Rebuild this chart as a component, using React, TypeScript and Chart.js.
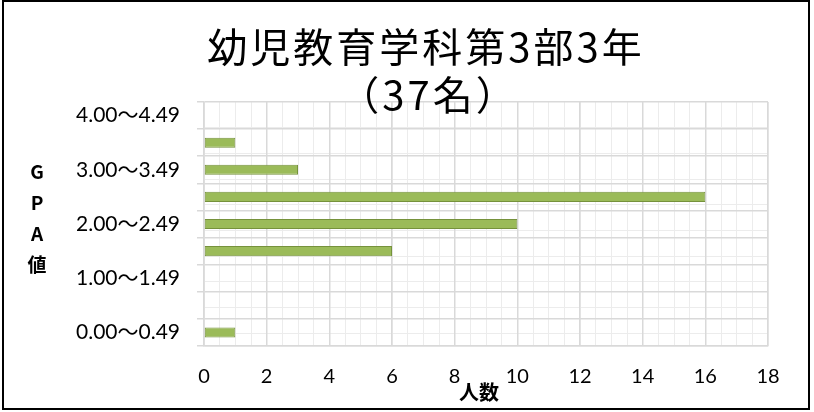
import React, { useEffect, useRef } from 'react';
import { Chart, registerables } from 'chart.js';

Chart.register(...registerables);

// ---- data ----
const categories = [
  '4.00～4.49',
  '3.50～3.99',
  '3.00～3.49',
  '2.50～2.99',
  '2.00～2.49',
  '1.50～1.99',
  '1.00～1.49',
  '0.50～0.99',
  '0.00～0.49',
];
const counts = [0, 1, 3, 16, 10, 6, 0, 0, 1];
const titleLines = ['幼児教育学科第3部3年', '（37名）'];
const yAxisTitleChars = ['G', 'P', 'A', '値'];
const xAxisTitle = '人数';
const xMin = 0;
const xMax = 18;
const xStep = 2;
const xMinorStep = 0.5;

// ---- styles ----
const MAJOR = '#d9d9d9';
const MINOR = '#ececec';
const BAR_FILL = '#9bbb59';
const BAR_BORDER = '#76923c';
const TICK_FONT = 'Lato, "Noto Sans CJK JP", sans-serif';
const CJK_FONT = '"Noto Sans CJK JP", sans-serif';

const decorPlugin = {
  id: 'decor',
  beforeDraw(chart: any) {
    const ctx = chart.ctx;
    ctx.save();
    ctx.fillStyle = '#ffffff';
    ctx.fillRect(0, 0, chart.width, chart.height);
    ctx.restore();
  },
  afterDraw(chart: any) {
    const ctx = chart.ctx;
    ctx.save();
    ctx.strokeStyle = '#000000';
    ctx.lineWidth = 2;
    ctx.strokeRect(3, 1, 806, 408);

    ctx.fillStyle = '#000000';
    ctx.textAlign = 'center';
    ctx.textBaseline = 'middle';
    ctx.font = `40px ${CJK_FONT}`;
    (ctx as any).letterSpacing = '3px';
    ctx.fillText(titleLines[0], 426, 47);
    ctx.fillText(titleLines[1], 429, 95);
    (ctx as any).letterSpacing = '0px';

    ctx.font = `bold 19px ${CJK_FONT}`;
    yAxisTitleChars.forEach((c, i) => {
      ctx.fillText(c, 37, 172 + i * 31);
    });
    ctx.font = `bold 20px ${CJK_FONT}`;
    ctx.fillText(xAxisTitle, 479, 392);
    ctx.restore();
  },
};

export default function App() {
  const canvasRef = useRef<HTMLCanvasElement | null>(null);

  useEffect(() => {
    if (!canvasRef.current) return;
    const chart = new Chart(canvasRef.current, {
      type: 'bar',
      data: {
        labels: categories,
        datasets: [
          {
            data: counts,
            backgroundColor: BAR_FILL,
            borderColor: BAR_BORDER,
            borderWidth: 1,
            borderSkipped: false,
            barPercentage: 0.37,
            categoryPercentage: 1,
          },
        ],
      },
      options: {
        indexAxis: 'y',
        animation: false,
        responsive: false,
        devicePixelRatio: 1,
        layout: { padding: { top: 102, right: 46, left: 0, bottom: 0 } },
        plugins: {
          legend: { display: false },
          tooltip: { enabled: false },
          title: { display: false },
        },
        scales: {
          x: {
            type: 'linear',
            position: 'bottom',
            min: xMin,
            max: xMax,
            ticks: {
              stepSize: xStep,
              color: '#000000',
              font: { family: TICK_FONT, size: 20 },
              padding: 19,
            },
            grid: { color: MAJOR, lineWidth: 1.5, drawTicks: false },
            border: { color: MAJOR, width: 1.5 },
            afterFit: (s: any) => {
              s.height = 66;
            },
          },
          xMinor: {
            type: 'linear',
            position: 'bottom',
            min: xMin,
            max: xMax,
            ticks: { display: false, stepSize: xMinorStep },
            grid: { color: MINOR, lineWidth: 1, drawTicks: false, z: -2 },
            border: { display: false },
            afterFit: (s: any) => {
              s.height = 0;
            },
          },
          y: {
            type: 'category',
            position: 'left',
            offset: true,
            grid: { offset: true, color: MAJOR, lineWidth: 1.5, tickLength: 7 },
            border: { color: MAJOR, width: 1.5 },
            ticks: {
              autoSkip: false,
              color: '#000000',
              font: { family: TICK_FONT, size: 21 },
              padding: 17,
              callback: (_v: any, i: number) => (i % 2 === 0 ? categories[i] : ''),
            },
            afterFit: (s: any) => {
              s.width = 204;
            },
          },
          yMinor: {
            type: 'linear',
            position: 'left',
            min: -0.5,
            max: categories.length - 0.5,
            reverse: true,
            ticks: { display: false, stepSize: 0.5 },
            grid: {
              color: (c: any) =>
                c.tick && Number.isInteger(c.tick.value) ? MINOR : 'rgba(0,0,0,0)',
              lineWidth: 1,
              drawTicks: false,
              z: -2,
            },
            border: { display: false },
            afterFit: (s: any) => {
              s.width = 0;
            },
          },
        },
      } as any,
      plugins: [decorPlugin],
    });
    return () => chart.destroy();
  }, []);

  return (
    <div style={{ position: 'absolute', left: 0, top: 0, width: 814, height: 412 }}>
      <canvas ref={canvasRef} width={814} height={412} style={{ display: 'block' }} />
    </div>
  );
}
